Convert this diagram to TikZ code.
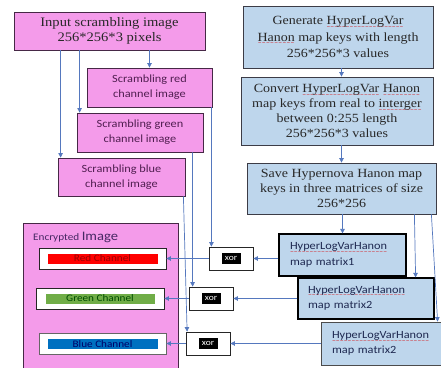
\documentclass[tikz,border=0pt]{standalone}
\usepackage{fontspec}
\setmainfont{Liberation Serif}[FakeStretch=1.12]
\newfontfamily\calib{Carlito}[FakeStretch=1.12]
\newfontfamily\wavef{DejaVu Sans}
\usetikzlibrary{arrows.meta}
\definecolor{pinkfill}{RGB}{244,155,234}
\definecolor{pborder}{RGB}{70,40,70}
\definecolor{bluefill}{RGB}{190,214,236}
\definecolor{bborder}{RGB}{60,60,70}
\definecolor{arrcol}{RGB}{85,120,190}
\definecolor{rtext}{RGB}{40,40,40}
\definecolor{ptext}{RGB}{80,30,80}
\definecolor{mtext}{RGB}{30,40,80}
\definecolor{chgreen}{RGB}{112,173,71}
\definecolor{chblue}{RGB}{0,112,192}
\definecolor{etext}{RGB}{70,40,100}
\newcommand\sq[1]{\leavevmode\setbox0=\hbox{#1}\rlap{\lower 3.6pt\hbox to \wd0{\color{red!85!black}\wavef\fontsize{4.5}{5}\selectfont\xleaders\hbox{\char"223C}\hfil}}\box0\relax}
\begin{document}
\begin{tikzpicture}[x=1pt,y=-1pt,
  pbox/.style={draw=pborder,fill=pinkfill,line width=0.8pt,inner sep=0pt,align=center,text=ptext},
  bbox/.style={draw=bborder,fill=bluefill,line width=0.8pt,inner sep=0pt,align=center,text=rtext},
  mbox/.style={draw=black,fill=bluefill,line width=1.2pt,inner sep=0pt,align=left,text=mtext},
  xorbox/.style={draw=black!85,fill=white,line width=0.8pt,minimum width=44pt,minimum height=23pt,inner sep=0pt},
  xorlab/.style={fill=black,text=white,minimum width=19pt,minimum height=11pt,inner sep=0pt,font=\calib\fontsize{8.5}{9}\selectfont},
  chbox/.style={draw=black!85,fill=white,line width=0.8pt,inner sep=0pt},
  chbar/.style={minimum width=110pt,minimum height=10pt,inner sep=0pt,font=\calib\fontsize{10}{10}\selectfont},
  arr/.style={draw=arrcol,line width=0.7pt,-{Triangle[length=4.5pt,width=4.5pt]}},
  serifbig/.style={font=\fontsize{13}{15}\selectfont},
  scr/.style={font=\calib\fontsize{11}{15}\selectfont},
  mat/.style={font=\calib\fontsize{11}{15.5}\selectfont}
]
\fill[white] (0,0) rectangle (441,367);
\useasboundingbox (0,0) rectangle (441,367);

% left pink column
\node[pbox,serifbig,text=rtext,minimum width=191pt,minimum height=38pt] (inp) at (109.5,31) {Input scrambling image\\256*256*3 pixels};
\node[pbox,scr,minimum width=125pt,minimum height=39pt] (red) at (149.5,87.5) {Scrambling red\\channel image};
\node[pbox,scr,minimum width=126pt,minimum height=39pt] (grn) at (140,132.5) {Scrambling green\\channel image};
\node[pbox,scr,minimum width=127pt,minimum height=38pt] (blu) at (121.5,177) {Scrambling blue\\channel image};

% encrypted image
\node[pbox,minimum width=155pt,minimum height=146pt] (enc) at (100.5,296) {};
\node[anchor=base west,inner sep=0pt,text=etext] (enclab) at (33,240) {\calib\fontsize{10}{12}\selectfont Encrypted \fontsize{13}{14}\selectfont Image};
\node[chbox,minimum width=127pt,minimum height=21pt] (rc) at (102.5,258.5) {};
\node[chbar,fill=red,text=red!60!black] (rbar) at (rc) {Red Channel};
\node[chbox,minimum width=128pt,minimum height=21pt] (gc) at (100,298.5) {};
\node[chbar,minimum width=109pt,fill=chgreen,text=black!70!green] (gbar) at (gc) {Green Channel};
\node[chbox,draw=black!60,minimum width=127pt,minimum height=21pt] (bc) at (102.5,344) {};
\node[chbar,fill=chblue,text=blue!40!black] (bbar) at (bc) {Blue Channel};

% xor boxes
\node[xorbox] (x1) at (231,258.5) {};
\node[xorlab] (x1l) at (x1) {xor};
\node[xorbox] (x2) at (211,298.5) {};
\node[xorlab] (x2l) at (x2) {xor};
\node[xorbox] (x3) at (208,343.5) {};
\node[xorlab] (x3l) at (x3) {xor};

% right blue column
\node[bbox,minimum width=190pt,minimum height=62pt,font=\fontsize{12.5}{16.5}\selectfont] (gen) at (338,37) {Generate \sq{HyperLogVar}\\\sq{Hanon} map keys with length\\256*256*3 values};
\node[bbox,minimum width=192pt,minimum height=68pt,font=\fontsize{12.5}{15}\selectfont] (conv) at (337,111) {Convert \sq{HyperLogVar} \sq{Hanon}\\map keys from real to \sq{interger}\\between 0:255 length\\256*256*3 values};
\node[bbox,minimum width=189pt,minimum height=51pt,font=\fontsize{12.5}{15}\selectfont] (save) at (341.5,188.5) {Save Hypernova Hanon map\\keys in three matrices of size\\256*256};

\node[mbox,mat,minimum width=127pt,minimum height=42pt,text width=105pt] (m1) at (342.5,255) {\sq{HyperLogVarHanon}\\map matrix1};
\node[mbox,mat,minimum width=136pt,minimum height=41pt,text width=116pt] (m2) at (366,298.5) {\sq{HyperLogVarHanon}\\map matrix2};
\node[mbox,mat,draw=black!70,line width=0.8pt,minimum width=125pt,minimum height=43pt,text width=103pt] (m3) at (383.5,343.5) {\sq{HyperLogVarHanon}\\map matrix2};

% connectors: input to channels
\draw[arr] (red.north |- inp.south) -- (red.north);
\draw[arr] ([xshift=3pt]grn.north west |- inp.south) -- ([xshift=3pt]grn.north west);
\draw[arr] ([xshift=3pt]blu.north west |- inp.south) -- ([xshift=3pt]blu.north west);
% channels to xor
\draw[arr] ([xshift=-1pt]red.south east) -- ([xshift=-1pt]red.south east |- x1.north);
\draw[arr] ([xshift=-11pt]grn.south east) -- ([xshift=4pt]x2.north west);
\draw[arr] ([xshift=-2pt]blu.south east) -- ([xshift=1.5pt]x3.north west);
% right column
\draw[arr] (gen.south -| save.north) -- (conv.north -| save.north);
\draw[arr] (conv.south -| save.north) -- (save.north);
\draw[arr] (m1.north |- save.south) -- (m1.north);
\draw[arr] ([xshift=-22pt]save.south east) -- ([xshift=-19pt]m2.north east);
\draw[arr] ([xshift=-5pt]save.south east) -- ([xshift=117pt]m3.north west);
% matrices to xor
\draw[arr] (m1.west |- x1.east) -- (x1.east);
\draw[arr] (m2.west |- x2.east) -- (x2.east);
\draw[arr] (m3.west |- x3.east) -- (x3.east);
% xor to channels
\draw[arr] (x1.west) -- (x1.west -| rc.east);
\draw[arr] (x2.west) -- (x2.west -| gc.east);
\draw[arr] (x3.west) -- (x3.west -| bc.east);
\end{tikzpicture}
\end{document}
